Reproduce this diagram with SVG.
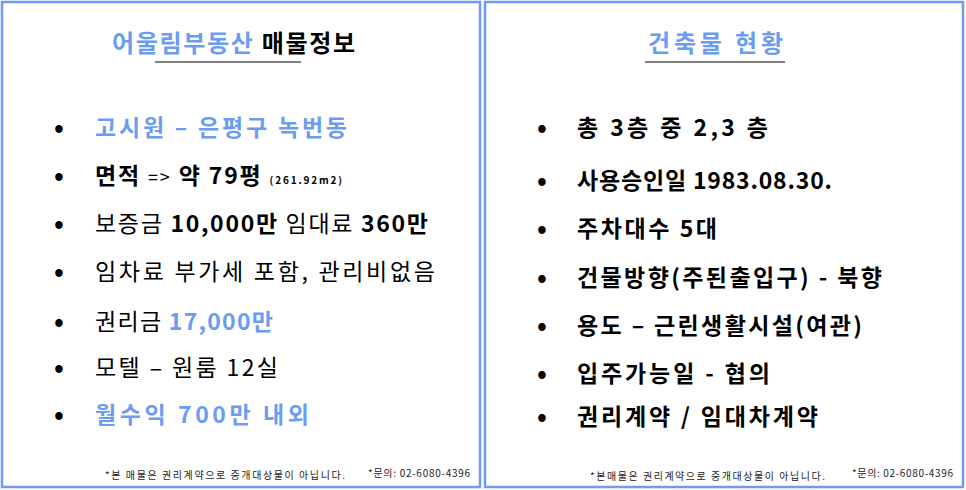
<svg xmlns="http://www.w3.org/2000/svg" width="966" height="490" viewBox="0 0 966 490">
<style>
text{font-family:"Noto Sans CJK KR","Noto Sans",sans-serif;fill:#000}
.t{font-size:23px}
.b{font-weight:bold}
.bl{fill:#6b9cf2}
.d{font-size:26px;font-weight:bold}
.f{font-size:10px;fill:#222}
.panel{fill:#fff;stroke:#6f9cf0;stroke-width:2.5}
.ul{stroke:#000;stroke-width:1.2}
</style>
<g id="left-panel">
<rect class="panel" x="2" y="2" width="478" height="485"/>
<text x="112" y="52" class="t b" style="font-size:24px" textLength="243" lengthAdjust="spacing"><tspan class="bl">어울림부동산</tspan> 매물정보</text>
<line class="ul" x1="155" y1="62" x2="301" y2="62"/>
<text x="54" y="137" class="d">•</text><text x="95" y="136" class="t b bl" textLength="252" lengthAdjust="spacing">고시원 – 은평구 녹번동</text>
<text x="54" y="185" class="d">•</text><text x="95" y="184" class="t" textLength="247" lengthAdjust="spacing"><tspan class="b">면적</tspan> <tspan style="font-size:18px">=&gt;</tspan> <tspan class="b">약 79평</tspan> <tspan class="b" style="font-size:10px">(261.92m2)</tspan></text>
<text x="54" y="233" class="d">•</text><text x="95" y="232" class="t" textLength="333" lengthAdjust="spacing">보증금 <tspan class="b">10,000만</tspan> 임대료 <tspan class="b">360만</tspan></text>
<text x="54" y="281" class="d">•</text><text x="95" y="280" class="t" textLength="340" lengthAdjust="spacing">임차료 부가세 포함, 관리비없음</text>
<text x="54" y="331" class="d">•</text><text x="95" y="330" class="t" textLength="178" lengthAdjust="spacing">권리금 <tspan class="b bl">17,000만</tspan></text>
<text x="54" y="377" class="d">•</text><text x="95" y="376" class="t" textLength="183" lengthAdjust="spacing">모텔 – 원룸 12실</text>
<text x="54" y="424" class="d">•</text><text x="95" y="423" class="t b bl" textLength="214" lengthAdjust="spacing">월수익 700만 내외</text>
<text x="105" y="479" class="f" textLength="240" lengthAdjust="spacing">*본 매물은 권리계약으로 중개대상물이 아닙니다.</text>
<text x="368" y="477" class="f" textLength="102" lengthAdjust="spacing">*문의: 02-6080-4396</text>
</g>
<g id="right-panel">
<rect class="panel" x="485" y="2" width="478" height="485"/>
<text x="648" y="52" class="t b bl" style="font-size:24px" textLength="135" lengthAdjust="spacing">건축물 현황</text>
<line class="ul" x1="645" y1="62" x2="785" y2="62"/>
<text x="537" y="137" class="d">•</text><text x="577" y="136" class="t b" textLength="191" lengthAdjust="spacing">총 3층 중 2,3 층</text>
<text x="537" y="190" class="d">•</text><text x="577" y="189" class="t b" textLength="255" lengthAdjust="spacing">사용승인일 1983.08.30.</text>
<text x="537" y="238" class="d">•</text><text x="577" y="237" class="t b" textLength="140" lengthAdjust="spacing">주차대수 5대</text>
<text x="537" y="287" class="d">•</text><text x="577" y="286" class="t b" textLength="305" lengthAdjust="spacing">건물방향(주된출입구) - 북향</text>
<text x="537" y="335" class="d">•</text><text x="577" y="334" class="t b" textLength="285" lengthAdjust="spacing">용도 – 근린생활시설(여관)</text>
<text x="537" y="383" class="d">•</text><text x="577" y="382" class="t b" textLength="193" lengthAdjust="spacing">입주가능일 - 협의</text>
<text x="537" y="426" class="d">•</text><text x="577" y="425" class="t b" textLength="241" lengthAdjust="spacing">권리계약 / 임대차계약</text>
<text x="590" y="480" class="f" textLength="235" lengthAdjust="spacing">*본매물은 권리계약으로 중개대상물이 아닙니다.</text>
<text x="852" y="477" class="f" textLength="101" lengthAdjust="spacing">*문의: 02-6080-4396</text>
</g>
<g id="connectors"/>
</svg>
